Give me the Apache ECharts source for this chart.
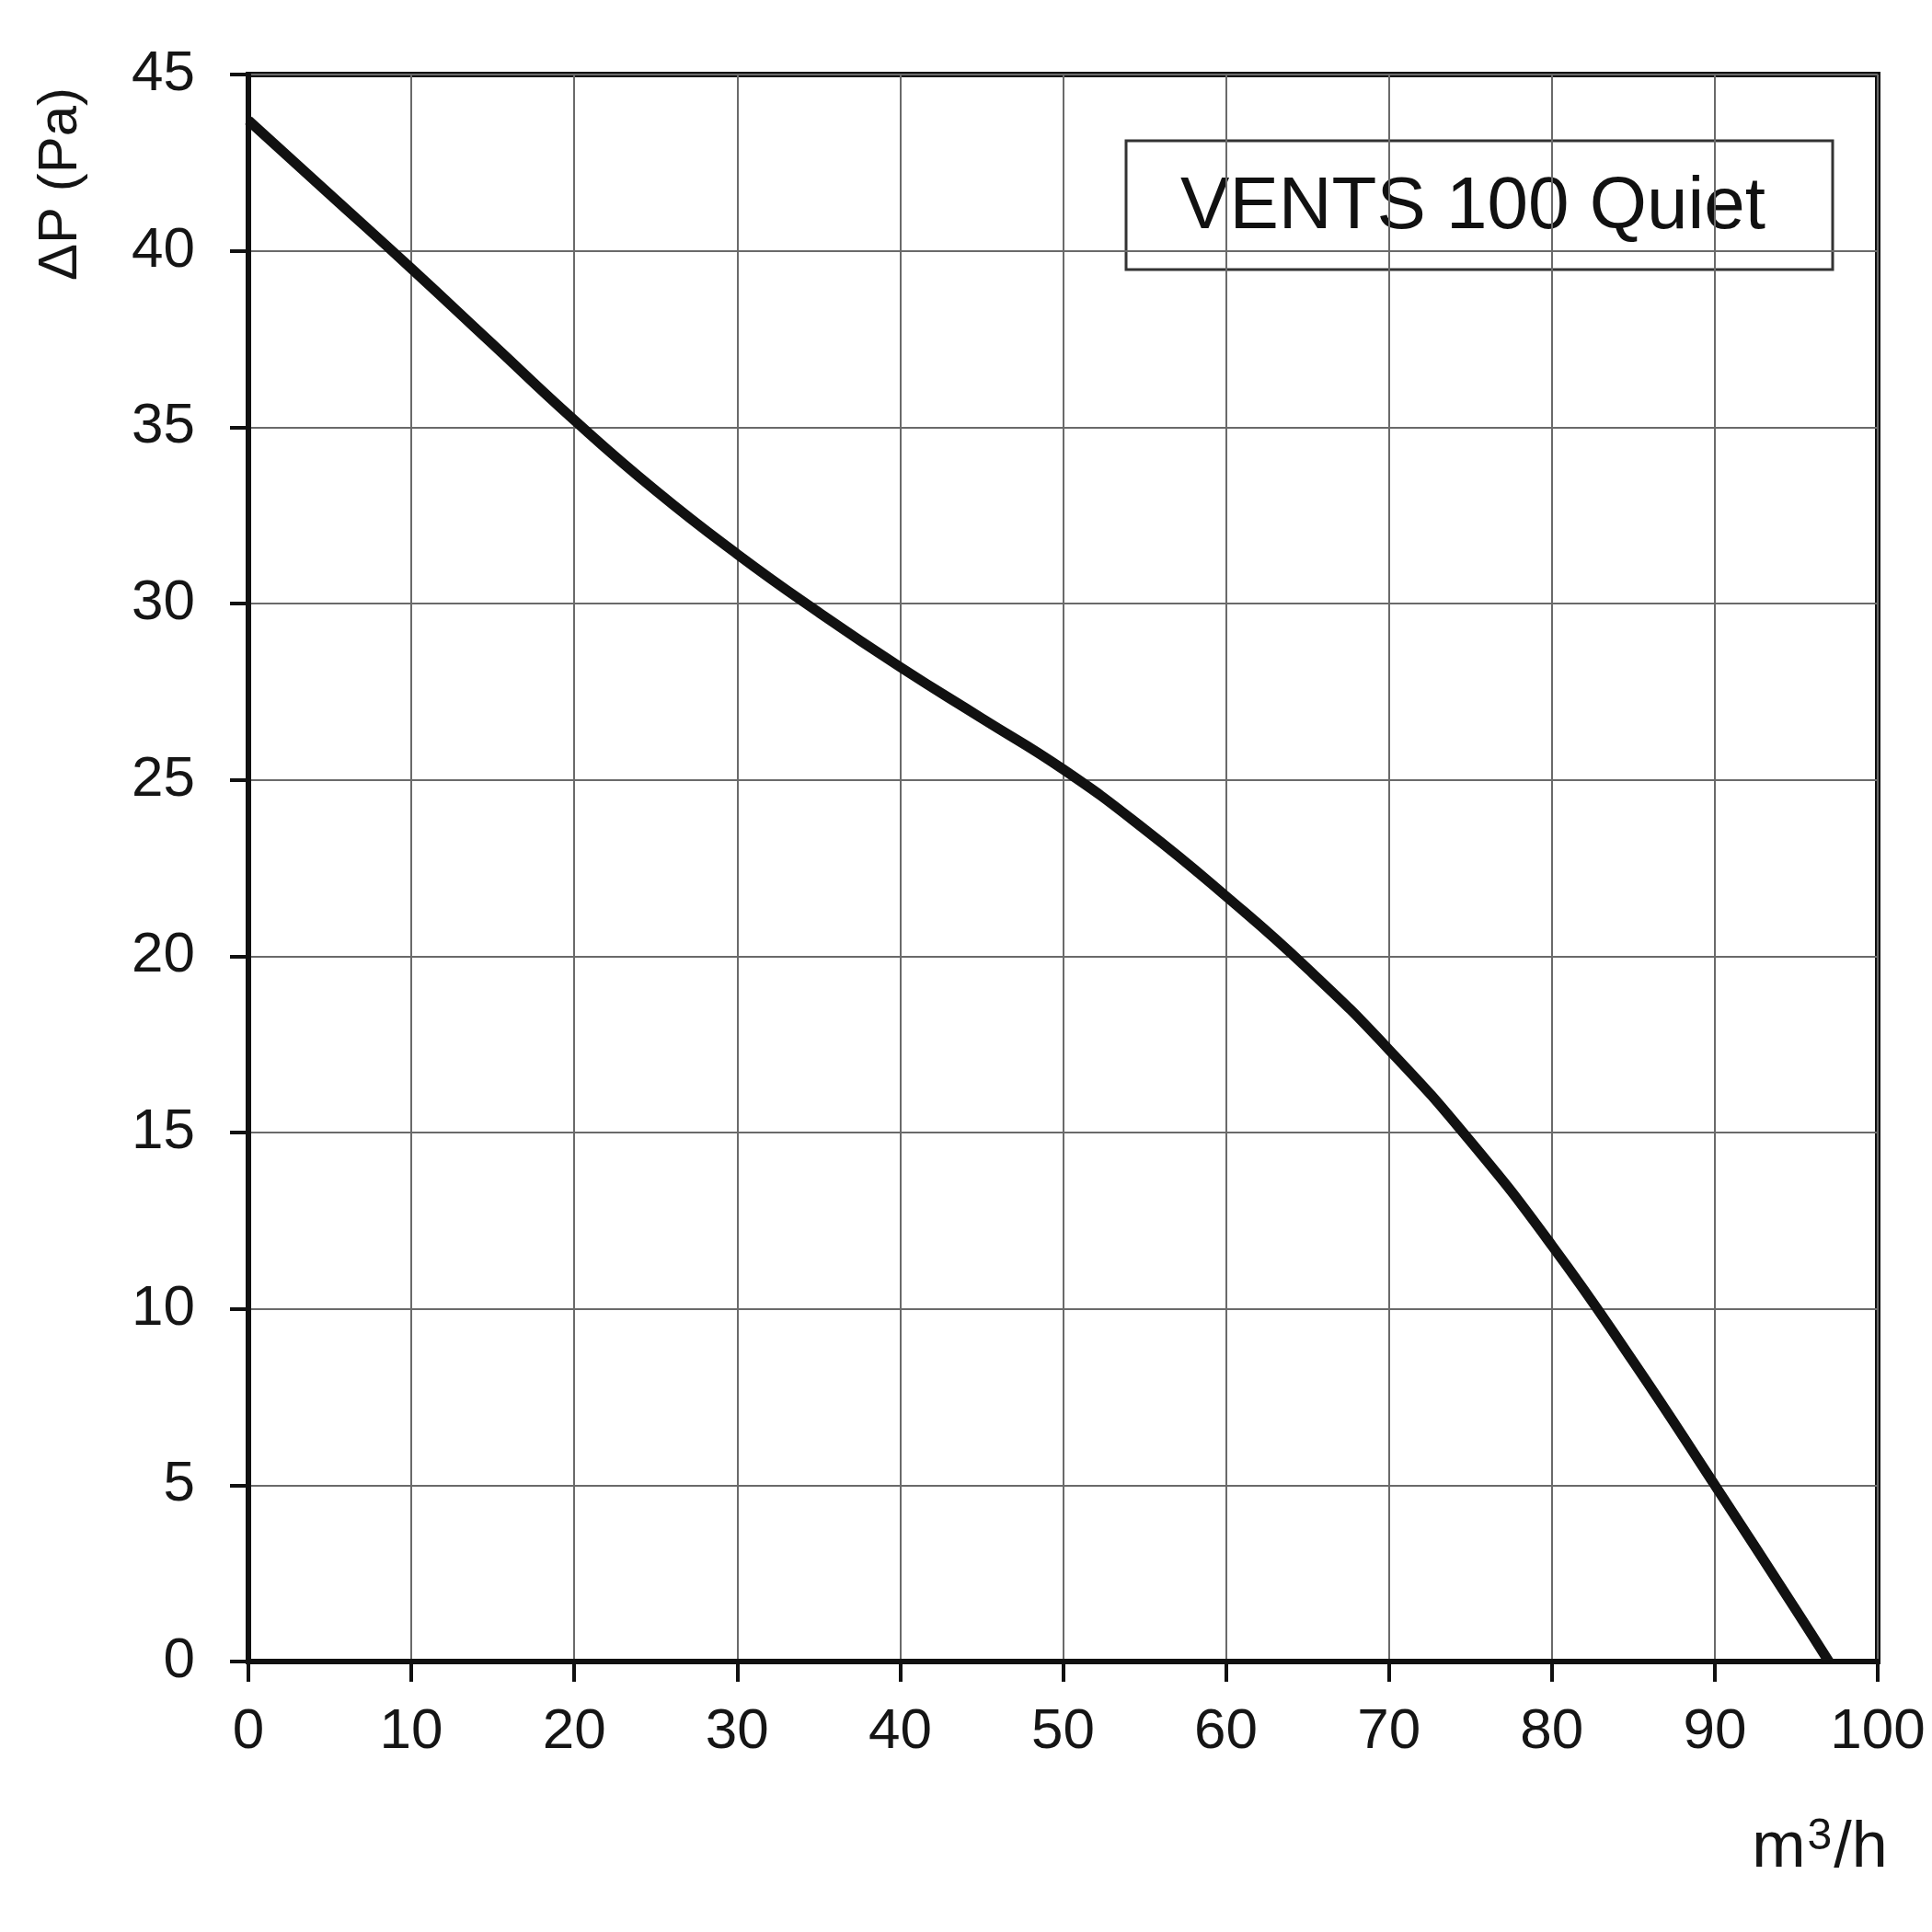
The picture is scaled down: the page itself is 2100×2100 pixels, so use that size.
<!DOCTYPE html>
<html>
<head>
<meta charset="utf-8">
<script src="https://cdn.jsdelivr.net/npm/echarts@6/dist/echarts.min.js"></script>
<style>
  html, body { margin: 0; padding: 0; background: #fff; }
  #main { width: 2100px; height: 2100px; }
</style>
</head>
<body>
<div id="main"></div>
<script>
// air flow, m3/h
var flow = [0, 5, 10, 15, 20, 25, 30, 35, 40, 45, 50, 55, 60, 65, 70, 75, 80, 85, 90, 95, 97];
// static pressure, Pa
var pressure = [43.7, 41.6, 39.5, 37.35, 35.2, 33.2, 31.4, 29.75, 28.2, 26.75, 25.3, 23.6, 21.7, 19.65, 17.35, 14.75, 11.8, 8.5, 5.0, 1.45, 0];

var modelName = 'VENTS 100 Quiet';
var yName = 'ΔP (Pa)';

var font = '"Liberation Sans", Arial, sans-serif';

var chart = echarts.init(document.getElementById('main'));

chart.setOption({
  backgroundColor: '#fff',
  animation: false,
  grid: {
    left: 270, right: 59, top: 81, bottom: 294,
    show: true,
    borderColor: '#111',
    borderWidth: 6
  },
  xAxis: {
    type: 'value',
    min: 0, max: 100, interval: 10,
    axisLine: { lineStyle: { color: '#111', width: 6 } },
    axisTick: { length: 22, lineStyle: { color: '#111', width: 4 } },
    axisLabel: { color: '#151515', fontSize: 62, fontFamily: font, margin: 46 },
    splitLine: { lineStyle: { color: '#6a6a6a', width: 2 } }
  },
  yAxis: {
    type: 'value',
    min: 0, max: 45, interval: 5,
    axisLine: { show: true, lineStyle: { color: '#111', width: 6 } },
    axisTick: { show: true, length: 20, lineStyle: { color: '#111', width: 4 } },
    axisLabel: { color: '#151515', fontSize: 62, fontFamily: font, margin: 58 },
    splitLine: { lineStyle: { color: '#6a6a6a', width: 2 } }
  },
  graphic: [
    {
      type: 'text',
      x: 66, y: 200,
      rotation: Math.PI / 2,
      style: {
        text: yName,
        fill: '#151515',
        font: '60px ' + font,
        textAlign: 'center',
        textVerticalAlign: 'middle'
      }
    },
    {
      type: 'text',
      x: 1978, y: 2010,
      style: {
        text: '{b|m}{s|3}{b|/h}',
        fill: '#151515',
        textAlign: 'center',
        textVerticalAlign: 'middle',
        rich: {
          b: { fontSize: 70, fontFamily: font, fill: '#151515' },
          s: { fontSize: 48, fontFamily: font, fill: '#151515', verticalAlign: 'top', padding: [0, 2, 26, 2] }
        }
      }
    },
    {
      type: 'group',
      z: 100,
      children: [
        {
          type: 'rect',
          shape: { x: 1224, y: 153, width: 768, height: 140 },
          style: { fill: '#fff', stroke: '#333', lineWidth: 3 }
        },
        {
          type: 'text',
          x: 1601, y: 226,
          style: {
            text: modelName,
            fill: '#111',
            font: '80px ' + font,
            textAlign: 'center',
            textVerticalAlign: 'middle'
          }
        }
      ]
    }
  ],
  series: [{
    type: 'line',
    data: flow.map(function (f, i) { return [f, pressure[i]]; }),
    smooth: 0.5,
    showSymbol: false,
    lineStyle: { color: '#111', width: 11 },
    z: 5
  }]
});
</script>
</body>
</html>
